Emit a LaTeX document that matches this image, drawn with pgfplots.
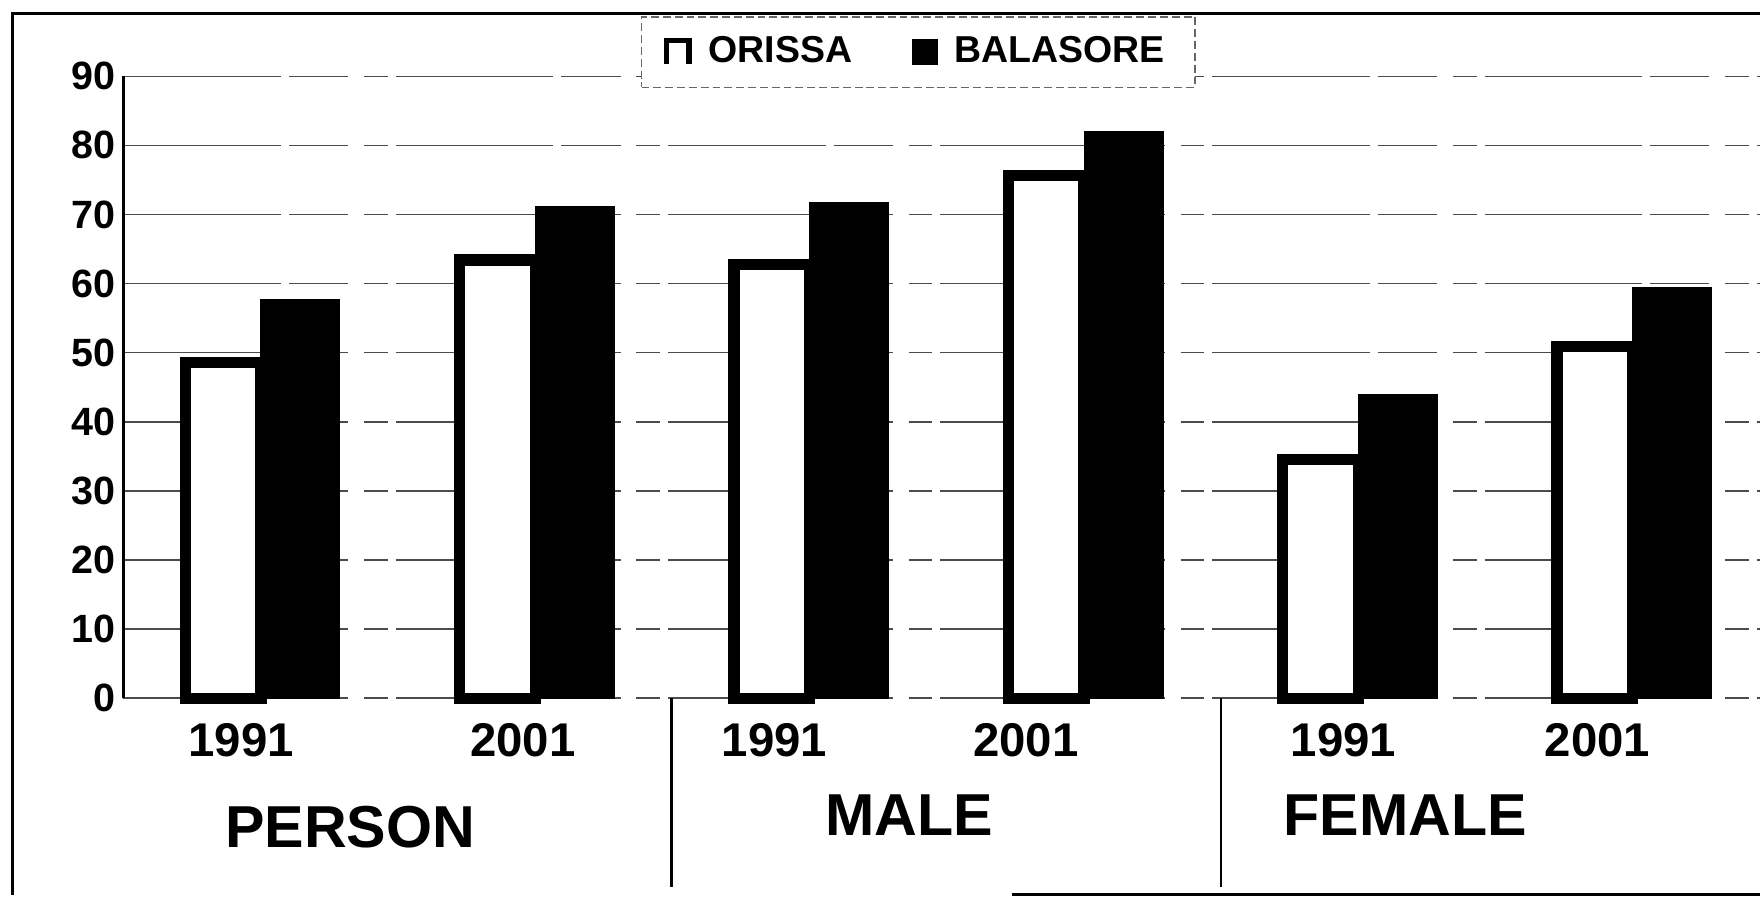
\documentclass[border=0pt]{standalone}
\usepackage{fontspec}
\setmainfont{Liberation Sans}
\usepackage{pgfplots}
\pgfplotsset{compat=1.18}
\begin{document}
\begin{tikzpicture}
\begin{axis}[
  at={(0,0)}, anchor=south west,
  scale only axis, width=14.58cm, height=5.54cm,
  xmin=-0.501, xmax=5.464, ymin=0, ymax=90,
  axis y line*=left, axis x line*=bottom,
  x axis line style={draw=none},
  y axis line style={line width=0.6pt},
  ytick={0,10,...,90},
  ymajorgrids,
  grid style={black!70, line width=0.4pt, dash pattern=on 40pt off 2pt on 15pt off 4pt on 6pt off 2pt},
  major tick length=0pt,
  xtick={-0.072,0.955,1.872,2.788,3.946,4.871},
  xticklabels={1991,2001,1991,2001,1991,2001},
  xticklabel style={font=\bfseries\fontsize{12}{14}\selectfont, yshift=-0.1cm},
  yticklabel style={font=\bfseries\fontsize{10}{12}\selectfont, xshift=0.05cm},
  /pgf/number format/assume math mode=true,
  clip=false,
  legend columns=2,
  legend style={at={(axis cs:2.396,93.5)}, anchor=center, draw=black!60,
    dash pattern=on 2pt off 1pt, line width=0.4pt,
    font=\bfseries\fontsize{9.5}{11}\selectfont, inner xsep=0.2cm, inner ysep=0.1cm,
    /tikz/every odd column/.append style={column sep=0.08cm},
    /tikz/every even column/.append style={column sep=0.47cm}},
]
\addplot[ybar, fill=white, draw=black, line width=0.1cm, bar width=0.276, bar shift=-0.138,
  legend image code/.code={\draw[solid, line width=1.3pt, black, fill=none] (0cm,-0.11cm) -- (0cm,0.1cm) -- (0.2cm,0.1cm) -- (0.2cm,-0.11cm);}]
  coordinates {(0,48.6) (1,63.4) (2,62.8) (3,75.7) (4,34.5) (5,50.9)};
\addlegendentry{ORISSA}
\addplot[ybar, fill=black, draw=black, line width=0pt, bar width=0.288, bar shift=0.144,
  legend image code/.code={\fill[black] (0cm,-0.11cm) rectangle (0.22cm,0.11cm);}]
  coordinates {(0,57.7) (1,71.1) (2,71.7) (3,82.0) (4,43.9) (5,59.5)};
\addlegendentry{BALASORE}
\draw[line width=0.6pt] (axis cs:1.496,0) -- (axis cs:1.496,-27.3);
\draw[line width=0.6pt] (axis cs:3.50,0) -- (axis cs:3.50,-27.3);
\node[font=\bfseries\fontsize{15}{18}\selectfont] at (axis cs:0.325,-18.7) {PERSON};
\node[font=\bfseries\fontsize{15}{18}\selectfont] at (axis cs:2.363,-17.0) {MALE};
\node[font=\bfseries\fontsize{15}{18}\selectfont] at (axis cs:4.171,-17.0) {FEMALE};
\end{axis}
\draw[line width=0.8pt] (-0.99,-1.75) -- (-0.99,6.10) -- (14.58,6.10);
\draw[line width=0.8pt] (7.92,-1.75) -- (14.58,-1.75);
\pgfresetboundingbox
\path[use as bounding box] (-1.10,-1.78) rectangle (14.58,6.22);
\end{tikzpicture}
\end{document}
